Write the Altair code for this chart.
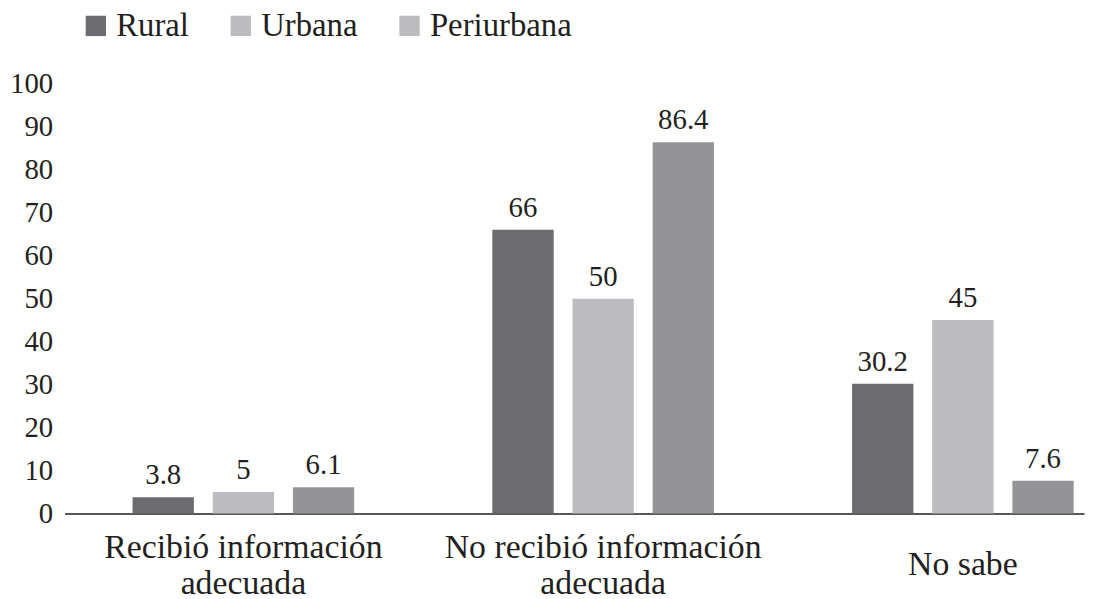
import altair as alt
import pandas as pd

categories = ["Recibió información\nadecuada", "No recibió información\nadecuada", "No sabe"]
series = ["Rural", "Urbana", "Periurbana"]
rural = [3.8, 66, 30.2]
urbana = [5, 50, 45]
periurbana = [6.1, 86.4, 7.6]
bar_colors = ["#6b6b70", "#bcbcc0", "#949498"]
legend_colors = ["#6b6b70", "#bcbcc0", "#bcbcc0"]
y_ticks = list(range(0, 101, 10))

rows = []
for i, c in enumerate(categories):
    for s, vals in zip(series, [rural, urbana, periurbana]):
        rows.append({"categoria": c, "serie": s, "valor": vals[i], "cero": 0})
df = pd.DataFrame(rows)

FONT = "Liberation Serif"
TXT = "#231f20"

x_enc = alt.X(
    "categoria:N",
    sort=categories,
    title=None,
    scale=alt.Scale(paddingInner=0.384, paddingOuter=0.1089, align=0.868),
    axis=alt.Axis(
        labelExpr="split(datum.label, '\\n')",
        labelAngle=0,
        labelFont=FONT,
        labelFontSize=34,
        labelLineHeight=37,
        labelBaseline="middle",
        labelPadding={"condition": {"test": "datum.label == 'No sabe'", "value": 51},
                      "value": 34},
        labelLimit=600,
        ticks=False,
        domainColor="#231f20",
        domainWidth=1.5,
    ),
)
xoff = alt.XOffset("serie:N", sort=series,
                   scale=alt.Scale(paddingInner=0.235, paddingOuter=0))

base = alt.Chart(df)

bars = base.mark_bar().encode(
    x=x_enc,
    xOffset=xoff,
    y=alt.Y(
        "valor:Q",
        title=None,
        scale=alt.Scale(domain=[0, 100], nice=False),
        axis=alt.Axis(
            values=y_ticks,
            grid=False,
            ticks=False,
            domain=False,
            labelFont=FONT,
            labelFontSize=29,
            labelPadding=12,
        ),
    ),
    color=alt.Color("serie:N", sort=series,
                    scale=alt.Scale(domain=series, range=bar_colors), legend=None),
)

labels = base.mark_text(font=FONT, fontSize=29, color=TXT, baseline="alphabetic", dy=-13).encode(
    x=alt.X("categoria:N", sort=categories),
    xOffset=alt.XOffset("serie:N", sort=series),
    y="valor:Q",
    text=alt.Text("valor:Q"),
)

legend_layer = base.mark_bar().encode(
    x=alt.X("categoria:N", sort=categories),
    xOffset=alt.XOffset("serie:N", sort=series),
    y="cero:Q",
    fill=alt.Fill(
        "serie:N",
        sort=series,
        scale=alt.Scale(domain=series, range=legend_colors),
        legend=alt.Legend(
            title=None,
            orient="none",
            legendX=15,
            legendY=-75,
            direction="horizontal",
            symbolType="square",
            symbolSize=420,
            symbolStrokeWidth=0,
            labelFont=FONT,
            labelFontSize=33,
            labelColor=TXT,
            labelOffset=4,
            columnPadding=35,
        ),
    ),
)

chart = (
    alt.layer(bars, labels, legend_layer)
    .resolve_scale(color="independent", fill="independent")
    .properties(
        width=1027,
        height=433,
        padding={"left": 57, "top": 74, "right": 4, "bottom": 110},
        autosize=alt.AutoSizeParams(type="none"),
    )
    .configure(background="white", font=FONT)
    .configure_view(strokeOpacity=0, strokeWidth=0)
    .configure_axis(labelFont=FONT, labelColor=TXT)
)

chart.save("out.html", embed_options={"renderer": "svg", "actions": False})
